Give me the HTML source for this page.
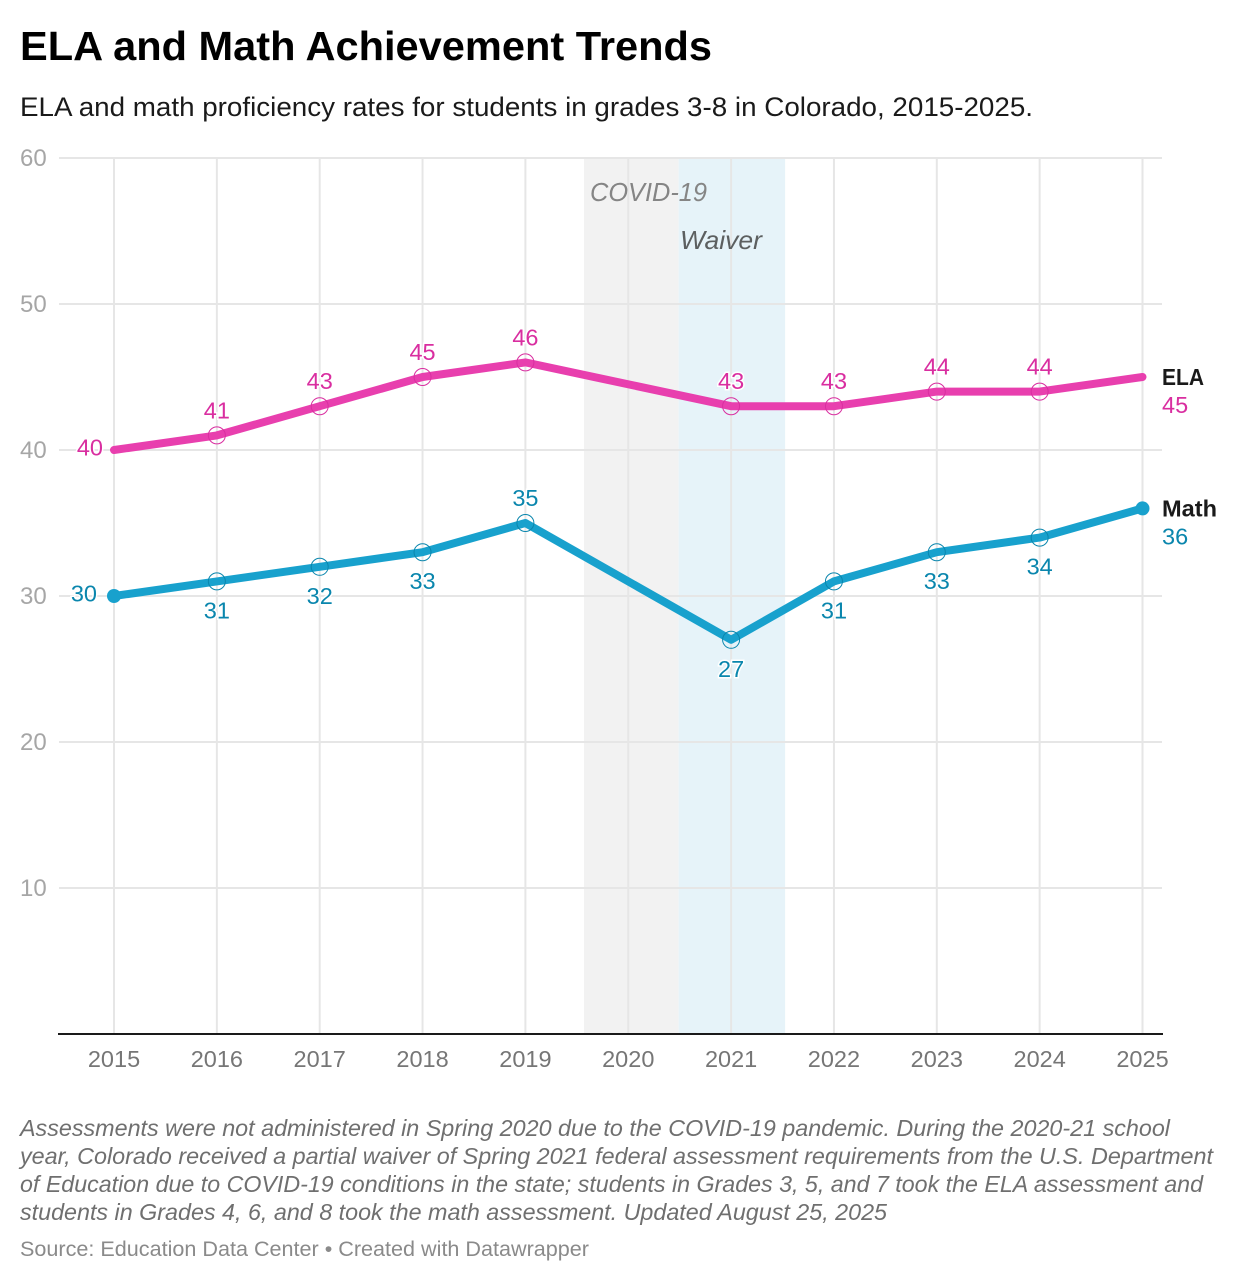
<!DOCTYPE html>
<html lang="en">
<head>
<meta charset="utf-8">
<title>ELA and Math Achievement Trends</title>
<style>
html,body{margin:0;padding:0;background:#fff;width:1238px;height:1282px;overflow:hidden}
svg{display:block;font-family:"Liberation Sans",Arial,sans-serif}
</style>
</head>
<body>
<svg id="chart" width="1238" height="1282" viewBox="0 0 1238 1282" xmlns="http://www.w3.org/2000/svg">
  <text x="20" y="60" font-size="41" font-weight="700" fill="#000" textLength="692" lengthAdjust="spacingAndGlyphs">ELA and Math Achievement Trends</text>
  <text x="20" y="116" font-size="27" fill="#1a1a1a" textLength="1013" lengthAdjust="spacingAndGlyphs">ELA and math proficiency rates for students in grades 3-8 in Colorado, 2015-2025.</text>
  <g id="bands"></g>
  <g id="grid"></g>
  <g id="annotations">
    <text x="590" y="201" font-size="26" font-style="italic" fill="#858585" textLength="117" lengthAdjust="spacingAndGlyphs">COVID-19</text>
    <text x="680" y="249" font-size="26" font-style="italic" fill="#5c5f60" textLength="82" lengthAdjust="spacingAndGlyphs">Waiver</text>
  </g>
  <g id="axes"></g>
  <g id="series"></g>
  <g id="footer" font-size="23" font-style="italic" fill="#6f6f6f">
    <text x="20" y="1136" textLength="1150" lengthAdjust="spacingAndGlyphs">Assessments were not administered in Spring 2020 due to the COVID-19 pandemic. During the 2020-21 school</text>
    <text x="20" y="1164" textLength="1193" lengthAdjust="spacingAndGlyphs">year, Colorado received a partial waiver of Spring 2021 federal assessment requirements from the U.S. Department</text>
    <text x="20" y="1192" textLength="1183" lengthAdjust="spacingAndGlyphs">of Education due to COVID-19 conditions in the state; students in Grades 3, 5, and 7 took the ELA assessment and</text>
    <text x="20" y="1220" textLength="867" lengthAdjust="spacingAndGlyphs">students in Grades 4, 6, and 8 took the math assessment. Updated August 25, 2025</text>
    <text x="20" y="1256" font-size="21" font-style="normal" fill="#8a8a8a" textLength="569" lengthAdjust="spacingAndGlyphs">Source: Education Data Center • Created with Datawrapper</text>
  </g>
</svg>
<script>
const years = [2015, 2016, 2017, 2018, 2019, 2020, 2021, 2022, 2023, 2024, 2025];
const elaValues = [40, 41, 43, 45, 46, null, 43, 43, 44, 44, 45];
const mathValues = [30, 31, 32, 33, 35, null, 27, 31, 33, 34, 36];
const yTicks = [10, 20, 30, 40, 50, 60];
const mathLabelsAboveLine = [2019];
const covidBand = [2019.57, 2020.49];
const waiverBand = [2020.49, 2021.525];

const NS = 'http://www.w3.org/2000/svg';
const xScale = year => 114 + (year - 2015) * (1142.5 - 114) / 10;
const yScale = value => 1034 - value * (1034 - 158) / 60;

function make(parent, tag, attrs, text) {
  const el = document.createElementNS(NS, tag);
  for (const key in attrs) el.setAttribute(key, attrs[key]);
  if (text !== undefined) el.textContent = text;
  parent.appendChild(el);
  return el;
}

const bandsLayer = document.getElementById('bands');
const gridLayer = document.getElementById('grid');
const axesLayer = document.getElementById('axes');
const seriesLayer = document.getElementById('series');

const covidRect = make(bandsLayer, 'rect', {x: xScale(covidBand[0]), y: yScale(60), width: xScale(covidBand[1]) - xScale(covidBand[0]), height: yScale(0) - yScale(60), fill: '#f2f2f2'});


const waiverRect = make(bandsLayer, 'rect', {x: xScale(waiverBand[0]), y: yScale(60), width: xScale(waiverBand[1]) - xScale(waiverBand[0]), height: yScale(0) - yScale(60), fill: '#e6f3f9'});



yTicks.forEach(tick => {
  const line = make(gridLayer, 'line', {x1: 59, x2: 1162, y1: yScale(tick), y2: yScale(tick), stroke: '#e6e6e6', 'stroke-width': 2});
  
  
  const label = make(axesLayer, 'text', {x: 20, y: yScale(tick) + 8, 'font-size': 24, fill: '#a6a6a6'}, tick);
  
  
});

years.forEach(year => {
  const line = make(gridLayer, 'line', {x1: xScale(year), x2: xScale(year), y1: yScale(60), y2: yScale(0), stroke: '#e6e6e6', 'stroke-width': 2});
  
  
  const label = make(axesLayer, 'text', {x: xScale(year), y: 1067, 'font-size': 23.5, fill: '#767676', 'text-anchor': 'middle'}, year);
  
  
});

const baseline = make(axesLayer, 'line', {x1: 58, x2: 1163, y1: yScale(0), y2: yScale(0), stroke: '#1a1a1a', 'stroke-width': 2});



function valueLabel(group, x, y, anchor, color, value) {
  const label = make(group, 'text', {x: x, y: y, 'text-anchor': anchor, 'font-size': 23.5, fill: color, stroke: '#fff', 'stroke-width': 3, 'paint-order': 'stroke'}, value);
  
  
}

function drawSeries(name, values, lineColor, textColor, isAbove, dots, firstLabelGap, seriesTitle, titleWidth) {
  const group = make(seriesLayer, 'g', {});
  
  
  const points = [];
  values.forEach((value, i) => {
    if (value !== null) points.push([xScale(years[i]), yScale(value), value, years[i]]);
  });
  const path = make(group, 'polyline', {points: points.map(p => p[0] + ',' + p[1]).join(' '), fill: 'none', stroke: lineColor, 'stroke-width': 8, 'stroke-linejoin': 'round', 'stroke-linecap': 'round'});
  
  

  points.forEach((p, i) => {
    const first = i === 0;
    const last = i === points.length - 1;
    if (!first && !last) {
      const ring = make(group, 'circle', {cx: p[0], cy: p[1], r: 8.5, fill: 'none', stroke: textColor, 'stroke-width': 1});
      
      
    } else if (dots) {
      const dot = make(group, 'circle', {cx: p[0], cy: p[1], r: 7, fill: lineColor});
      
      
    }
    if (first) {
      valueLabel(group, p[0] - firstLabelGap, p[1] + 5.5, 'end', textColor, p[2]);
    } else if (last) {
      const title = make(group, 'text', {x: 1162, y: p[1] + 8, 'font-size': 23, 'font-weight': 700, fill: '#1a1a1a', textLength: titleWidth, lengthAdjust: 'spacingAndGlyphs'}, seriesTitle);
      
      
      valueLabel(group, 1162, p[1] + 36, 'start', textColor, p[2]);
    } else if (isAbove(p[3])) {
      valueLabel(group, p[0], p[1] - 17, 'middle', textColor, p[2]);
    } else {
      valueLabel(group, p[0], p[1] + 37, 'middle', textColor, p[2]);
    }
  });
}

drawSeries('math', mathValues, '#18a1cd', '#0a86ad', year => mathLabelsAboveLine.includes(year), true, 17, 'Math', 55);
drawSeries('ela', elaValues, '#e83fae', '#d92ea0', () => true, false, 11, 'ELA', 42);
</script>
</body>
</html>
